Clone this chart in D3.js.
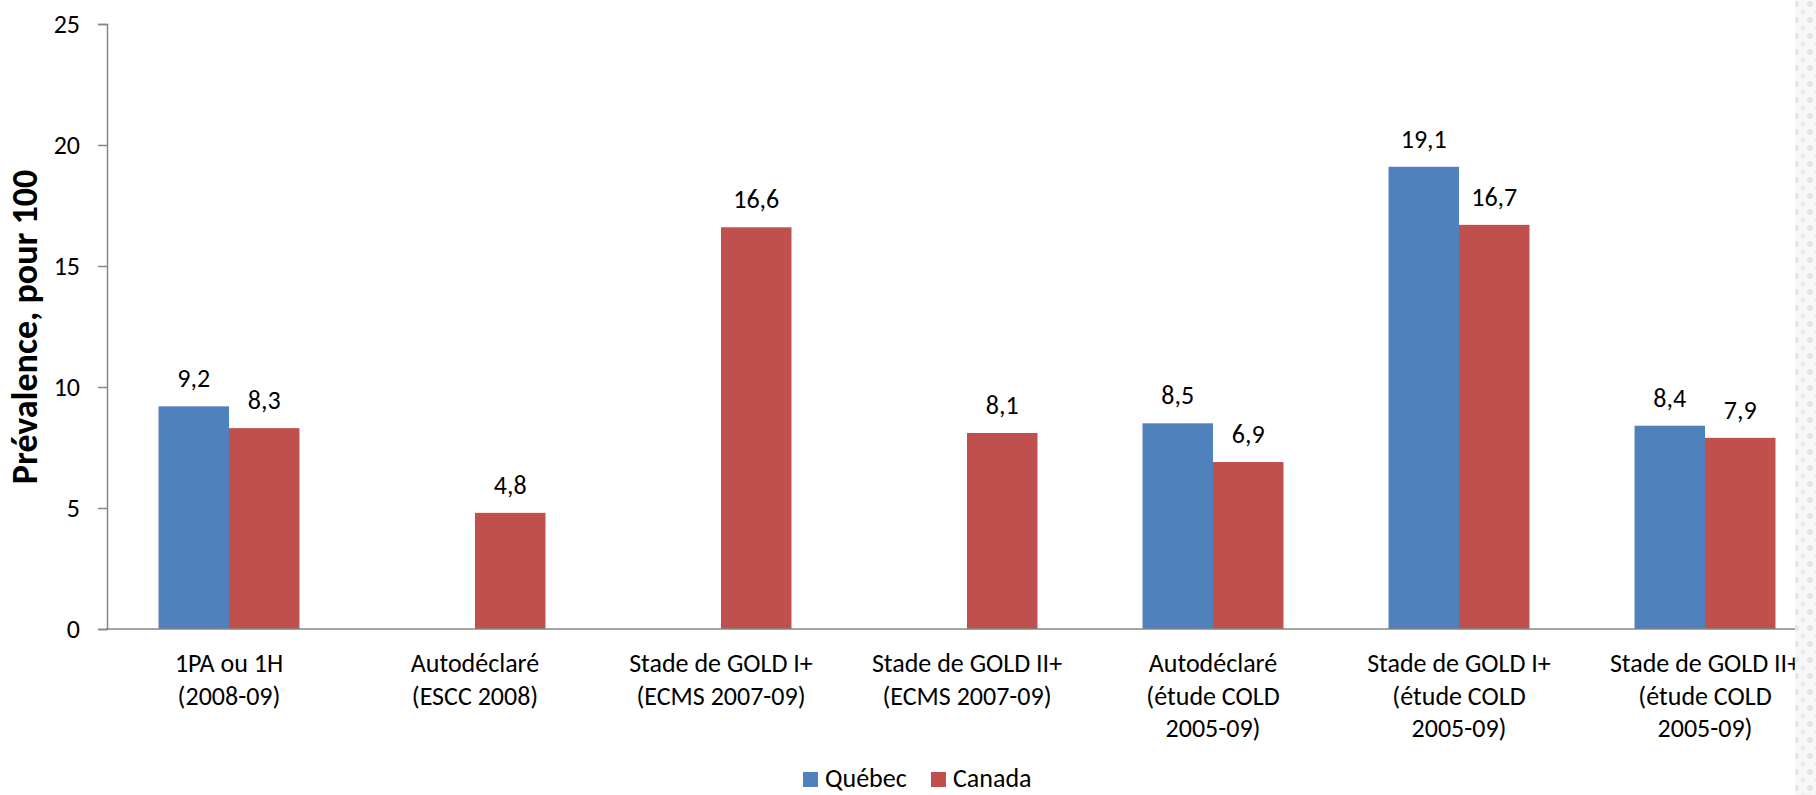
<!DOCTYPE html>
<html>
<head>
<meta charset="utf-8">
<script src="https://cdn.jsdelivr.net/npm/d3@7"></script>
<style>
  body { margin: 0; background: #fff; }
  svg { display: block; font-family: Calibri, Carlito, Lato, sans-serif; }
</style>
</head>
<body>
<svg width="1816" height="795"></svg>
<script>
const categories = [
  ["1PA ou 1H", "(2008-09)"],
  ["Autodéclaré", "(ESCC 2008)"],
  ["Stade de GOLD I+", "(ECMS 2007-09)"],
  ["Stade de GOLD II+", "(ECMS 2007-09)"],
  ["Autodéclaré", "(étude COLD", "2005-09)"],
  ["Stade de GOLD I+", "(étude COLD", "2005-09)"],
  ["Stade de GOLD II+", "(étude COLD", "2005-09)"]
];
const seriesNames = ["Québec", "Canada"];
const quebec = [9.2, null, null, null, 8.5, 19.1, 8.4];
const canada = [8.3, 4.8, 16.6, 8.1, 6.9, 16.7, 7.9];
const yTicks = [0, 5, 10, 15, 20, 25];
const colors = ["#4F81BD", "#C0504D"];

const svg = d3.select("svg");
const fontSize = 26;

// échelles
const x = d3.scaleBand()
  .domain(d3.range(categories.length))
  .range([106, 1828])
  .paddingInner(0.427)
  .paddingOuter(0.2135);
const xSeries = d3.scaleBand().domain(d3.range(2)).range([0, x.bandwidth()]);
const y = d3.scaleLinear().domain([0, 25]).range([629, 24]);

// axe Y
const yAxis = svg.append("g")
  .attr("transform", "translate(107,0)")
  .call(d3.axisLeft(y).tickValues(yTicks).tickSize(9).tickPadding(18).tickFormat(d3.format("d")));
yAxis.selectAll("path, line").attr("stroke", "#868686").attr("stroke-width", 1.5);
yAxis.selectAll("text").style("font-size", fontSize + "px").attr("fill", "#000")
  .style("font-family", "Calibri, Carlito, Lato, sans-serif");

// barres
const rows = categories.map((c, i) => [quebec[i], canada[i]]);
const groups = svg.append("g").selectAll("g")
  .data(rows)
  .join("g")
  .attr("transform", (d, i) => `translate(${x(i)},0)`);

groups.selectAll("rect")
  .data(d => d.map((v, s) => ({ v, s })).filter(e => e.v != null))
  .join("rect")
  .attr("x", d => xSeries(d.s))
  .attr("width", xSeries.bandwidth())
  .attr("y", d => y(d.v))
  .attr("height", d => y(0) - y(d.v))
  .attr("fill", d => colors[d.s]);

groups.selectAll("text")
  .data(d => d.map((v, s) => ({ v, s })).filter(e => e.v != null))
  .join("text")
  .attr("x", d => xSeries(d.s) + xSeries.bandwidth() / 2)
  .attr("y", d => y(d.v) - 19)
  .attr("text-anchor", "middle")
  .style("font-size", fontSize + "px")
  .text(d => d3.format(".1f")(d.v).replace(".", ","));

// axe X
svg.append("line")
  .attr("x1", 106).attr("x2", 1816)
  .attr("y1", y(0)).attr("y2", y(0))
  .attr("stroke", "#868686").attr("stroke-width", 1.5);

const xLabels = svg.append("g").selectAll("text")
  .data(categories)
  .join("text")
  .attr("text-anchor", "middle")
  .style("font-size", fontSize + "px");
xLabels.selectAll("tspan")
  .data((d, i) => d.map(line => ({ line, i })))
  .join("tspan")
  .attr("x", d => x(d.i) + x.bandwidth() / 2)
  .attr("y", (d, j) => 672 + j * 32.5)
  .text(d => d.line);

// titre axe Y
svg.append("text")
  .attr("transform", "translate(37,327) rotate(-90)")
  .attr("text-anchor", "middle")
  .style("font-size", "36px")
  .style("font-weight", "bold")
  .text("Prévalence, pour 100");

// légende
const legend = svg.append("g");
const legendX = [803, 931];
seriesNames.forEach((name, i) => {
  legend.append("rect")
    .attr("x", legendX[i]).attr("y", 772)
    .attr("width", 15).attr("height", 15)
    .attr("fill", colors[i]);
  legend.append("text")
    .attr("x", legendX[i] + 22).attr("y", 787)
    .style("font-size", fontSize + "px")
    .text(name);
});

// fond texturé à droite
const defs = svg.append("defs");
const pat = defs.append("pattern")
  .attr("id", "tex").attr("width", 14).attr("height", 16)
  .attr("patternUnits", "userSpaceOnUse");
pat.append("rect").attr("width", 14).attr("height", 16).attr("fill", "#f7f7f7");
pat.append("circle").attr("cx", 4).attr("cy", 4).attr("r", 3).attr("fill", "#e6e6e6");
pat.append("circle").attr("cx", 11).attr("cy", 12).attr("r", 2.5).attr("fill", "#ebebeb");
svg.append("rect")
  .attr("x", 1795).attr("y", 0)
  .attr("width", 21).attr("height", 795)
  .attr("fill", "url(#tex)");
</script>
</body>
</html>
